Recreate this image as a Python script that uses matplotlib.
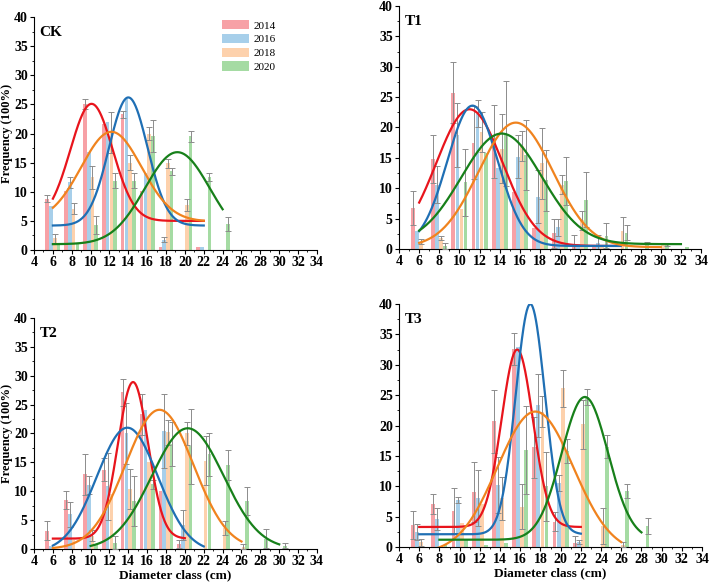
import numpy as np
import matplotlib.pyplot as plt
from matplotlib.patches import Patch
from matplotlib.ticker import MultipleLocator

plt.rcParams['font.family'] = ['Liberation Serif', 'DejaVu Serif']
plt.rcParams['font.weight'] = 'bold'

years = ['2014', '2016', '2018', '2020']
classes = [6, 8, 10, 12, 14, 16, 18, 20, 22, 24, 26, 28, 30, 32]

# CK
ck_2014 = [8.8, 10.2, 25.1, 21.6, 23.3, 10.1, 0.5, 0, 0.5, 0, 0, 0, 0, 0]
ck_2014_err = [0.6, 0, 0.9, 0, 0.6, 0, 0, 0, 0, 0, 0, 0, 0, 0]
ck_2016 = [7.5, 11.6, 16.8, 22.0, 26.0, 13.3, 1.8, 0, 0.5, 0, 0, 0, 0, 0]
ck_2016_err = [0, 1.0, 0, 0, 0, 0, 0.4, 0, 0, 0, 0, 0, 0, 0]
ck_2018 = [2.0, 7.1, 12.5, 20.2, 15.0, 20.0, 14.9, 7.7, 0, 0, 0, 0, 0, 0]
ck_2018_err = [0.8, 0.9, 2.0, 3.5, 1.3, 1.1, 0.8, 1.0, 0, 0, 0, 0, 0, 0]
ck_2020 = [1.0, 1.0, 4.3, 11.9, 11.9, 19.6, 13.5, 19.5, 12.6, 4.5, 0, 0, 0, 0]
ck_2020_err = [0, 0, 1.5, 1.3, 1.3, 2.7, 0.6, 0.9, 0.7, 1.2, 0, 0, 0, 0]

# T1
t1_2014 = [6.8, 14.8, 25.7, 17.5, 17.7, 9.4, 3.4, 2.6, 0.8, 0.5, 0, 0, 0, 0]
t1_2014_err = [2.8, 4.0, 5.0, 6.0, 6.0, 0, 0, 2.4, 1.5, 0, 0, 0, 0, 0]
t1_2016 = [3.0, 10.6, 18.8, 22.3, 13.3, 15.2, 8.6, 3.6, 0.8, 1.0, 0, 0, 0, 0]
t1_2016_err = [0, 3.0, 5.3, 2.3, 0, 3.5, 4.4, 1.4, 0, 1.3, 0, 0, 0, 0]
t1_2018 = [1.2, 1.8, 6.5, 19.3, 16.5, 17.0, 14.1, 10.6, 4.7, 0.5, 3.0, 0, 0.8, 0]
t1_2018_err = [0.4, 0.4, 0, 3.3, 5.7, 2.5, 5.8, 1.5, 1.5, 0, 2.2, 0, 0, 0]
t1_2020 = [0, 0.5, 11.0, 15.8, 19.0, 15.5, 11.3, 11.2, 8.1, 2.2, 2.7, 1.0, 0.7, 0.3]
t1_2020_err = [0, 0.5, 5.5, 0, 8.7, 5.8, 5.0, 4.0, 4.5, 2.0, 1.3, 0.2, 0.2, 0]

# T2
t2_2014 = [3.2, 8.5, 12.9, 13.7, 27.1, 23.3, 10.1, 0.8, 0, 0, 0, 0, 0, 0]
t2_2014_err = [1.6, 1.5, 3.6, 2.0, 2.4, 3.6, 0, 0.7, 0, 0, 0, 0, 0, 0]
t2_2016 = [0.5, 6.0, 11.1, 10.9, 20.0, 24.0, 20.4, 4.1, 0, 0, 0, 0, 0, 0]
t2_2016_err = [0, 2.2, 1.5, 5.8, 5.2, 0, 6.4, 2.6, 0, 0, 0, 0, 0, 0]
t2_2018 = [0, 1.5, 2.3, 9.5, 10.4, 15.0, 20.2, 20.0, 15.3, 3.6, 0.4, 0, 0, 0]
t2_2018_err = [0, 0, 1.0, 0, 3.4, 0, 2.2, 2.0, 4.3, 1.2, 0.4, 0, 0, 0]
t2_2020 = [0, 0, 0.8, 1.1, 8.3, 11.2, 18.2, 17.8, 16.4, 14.5, 8.3, 1.8, 0.6, 0]
t2_2020_err = [0, 0, 0, 1.1, 4.4, 0.8, 3.8, 6.5, 3.7, 2.6, 2.5, 1.6, 0.4, 0]

# T3
t3_2014 = [3.6, 7.1, 6.0, 9.1, 20.7, 32.6, 16.4, 4.2, 0.6, 0, 0, 0, 0, 0]
t3_2014_err = [2.3, 1.6, 3.7, 4.9, 5.2, 2.6, 5.0, 1.6, 1.2, 0, 0, 0, 0, 0]
t3_2016 = [2.5, 4.6, 7.7, 8.0, 10.2, 33.0, 23.3, 10.5, 0.8, 0, 0, 0, 0, 0]
t3_2016_err = [1.3, 1.8, 0.5, 4.6, 4.6, 0, 5.2, 1.3, 0.3, 0, 0, 0, 0, 0]
t3_2018 = [0.8, 0, 4.0, 7.0, 8.0, 6.6, 22.3, 26.1, 20.2, 3.5, 0.4, 0, 0, 0]
t3_2018_err = [0.6, 0, 0, 0, 3.5, 3.7, 2.5, 3.0, 4.0, 3.0, 0.4, 0, 0, 0]
t3_2020 = [0, 0.5, 1.2, 0.4, 0.6, 16.0, 10.0, 15.8, 24.7, 16.5, 9.2, 3.4, 0, 0]
t3_2020_err = [0, 0, 0, 0, 0, 7.2, 5.7, 2.0, 1.3, 1.9, 1.1, 1.3, 0, 0]

# Gauss fits: y0, xc, sigma, A, x_start, x_end
ck_fit = [(5.0, 10.1, 2.25, 20.1, 6, 22), (4.2, 14.0, 2.05, 22.0, 6, 22),
          (4.9, 12.2, 3.2, 15.4, 6, 22), (1.0, 19.2, 3.45, 15.8, 6, 24)]
t1_fit = [(0.5, 11.0, 3.3, 22.5, 6, 26), (0.5, 11.3, 2.5, 23.1, 6, 26),
          (0.3, 15.6, 3.7, 20.5, 6, 30), (0.8, 14.2, 4.0, 18.2, 6, 32)]
t2_fit = [(1.8, 14.5, 1.6, 27.1, 6, 20), (-0.5, 13.9, 3.24, 21.5, 6, 22),
          (0.0, 17.3, 3.6, 24.1, 6, 26), (0.0, 20.3, 3.8, 20.9, 10, 30)]
t3_fit = [(3.3, 15.7, 1.55, 29.2, 6, 22), (2.1, 17.0, 1.45, 37.9, 6, 22),
          (-1.0, 17.5, 3.76, 23.3, 6, 26), (1.2, 22.4, 2.3, 23.5, 8, 28)]

bar_colors = ['#f7a1a6', '#a7cfea', '#fdd1ac', '#a5dba3']
line_colors = ['#e8141c', '#1f6fb4', '#f0831e', '#17801a']
offsets = [-0.6, -0.2, 0.2, 0.6]

panels = [
    ('CK', [ck_2014, ck_2016, ck_2018, ck_2020],
     [ck_2014_err, ck_2016_err, ck_2018_err, ck_2020_err], ck_fit,
     [0.048, 0.5704, 0.399, 0.4003], True, False),
    ('T1', [t1_2014, t1_2016, t1_2018, t1_2020],
     [t1_2014_err, t1_2016_err, t1_2018_err, t1_2020_err], t1_fit,
     [0.5628, 0.5722, 0.426, 0.4175], False, False),
    ('T2', [t2_2014, t2_2016, t2_2018, t2_2020],
     [t2_2014_err, t2_2016_err, t2_2018_err, t2_2020_err], t2_fit,
     [0.048, 0.0567, 0.399, 0.397], True, True),
    ('T3', [t3_2014, t3_2016, t3_2018, t3_2020],
     [t3_2014_err, t3_2016_err, t3_2018_err, t3_2020_err], t3_fit,
     [0.5628, 0.0601, 0.4274, 0.4175], False, True),
]

fig = plt.figure(figsize=(7.09, 5.82), dpi=100)

for name, vals, errs, fits, pos, ylab, xlab in panels:
    ax = fig.add_axes(pos)
    x = np.array(classes)
    for i in range(4):
        v = np.array(vals[i])
        e = np.array(errs[i])
        ax.bar(x + offsets[i], v, width=0.38, color=bar_colors[i], zorder=2)
        m = e > 0
        ax.errorbar(x[m] + offsets[i], v[m], yerr=e[m], fmt='none',
                    ecolor='#8c8c8c', elinewidth=0.7, capsize=2, capthick=0.7,
                    zorder=3)
    for i, (y0, xc, s, A, x0, x1) in enumerate(fits):
        xx = np.linspace(x0, x1, 300)
        yy = y0 + A * np.exp(-(xx - xc) ** 2 / (2 * s ** 2))
        ax.plot(xx, yy, color=line_colors[i], lw=1.6, zorder=4)

    ax.set_xlim(4, 34)
    ax.set_ylim(0, 40)
    ax.set_xticks(range(4, 35, 2))
    ax.set_yticks(range(0, 41, 5))
    ax.yaxis.set_minor_locator(MultipleLocator(2.5))
    ax.xaxis.set_minor_locator(MultipleLocator(1))
    ax.tick_params(labelsize=10, width=0.8, length=3, pad=1.5)
    ax.tick_params(which='minor', length=1.5, width=0.6)
    ax.spines['top'].set_visible(False)
    ax.spines['right'].set_visible(False)
    for lbl in ax.get_xticklabels() + ax.get_yticklabels():
        lbl.set_fontweight('bold')
    ax.text(4.6, 38.5, name, fontsize=11, fontweight='bold', va='top')
    if ylab:
        ax.set_ylabel('Frequency (100%)', fontsize=9, fontweight='bold')
        ax.yaxis.set_label_coords(-0.074, 0.5)
    if xlab:
        ax.set_xlabel('Diameter class (cm)', fontsize=9.5, fontweight='bold',
                      labelpad=1)
    if name == 'CK':
        handles = [Patch(facecolor=c, label=y) for c, y in zip(bar_colors, years)]
        ax.legend(handles=handles, loc='upper right',
                  bbox_to_anchor=(0.89, 1.03), frameon=False,
                  prop={'size': 8, 'weight': 'normal'},
                  handlelength=2.4, handleheight=0.9, labelspacing=0.3,
                  handletextpad=0.4)

fig.savefig('out.png', dpi=100)
